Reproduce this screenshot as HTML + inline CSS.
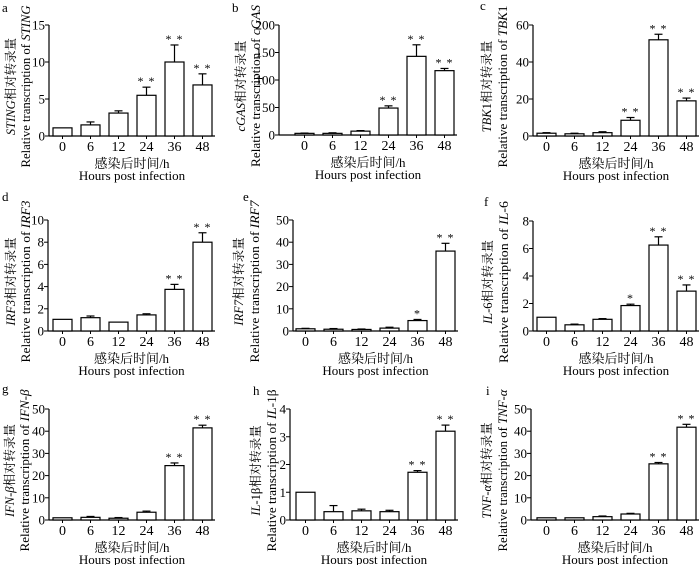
<!DOCTYPE html>
<html><head><meta charset="utf-8">
<style>
html,body{margin:0;padding:0;background:#fff;}
svg{display:block;font-family:"Liberation Serif","Noto Serif CJK SC",serif;}
</style></head>
<body>
<svg id="fig" width="700" height="565" viewBox="0 0 700 565"></svg>
<script>
const categories = ['0','6','12','24','36','48'];
const valuesA = [1.1,1.5,3.1,5.5,10,6.9];
const errA = [0,0.4,0.3,1.1,2.3,1.5];
const sigA = ['','','','**','**','**'];
const valuesB = [3,3,7,49,143,117];
const errB = [0.5,1,1,4,21,4];
const sigB = ['','','','**','**','**'];
const valuesC = [1.5,1.2,1.8,8.5,52,19];
const errC = [0.3,0.3,0.5,1.5,3,1.5];
const sigC = ['','','','**','**','**'];
const valuesD = [1.05,1.2,0.8,1.45,3.75,8];
const errD = [0,0.15,0,0.1,0.45,0.85];
const sigD = ['','','','','**','**'];
const valuesE = [1,0.8,0.7,1.3,4.7,36];
const errE = [0.2,0.3,0.2,0.4,0.5,3.5];
const sigE = ['','','','','*','**'];
const valuesF = [1,0.45,0.85,1.85,6.25,2.9];
const errF = [0,0.05,0.05,0.1,0.6,0.45];
const sigF = ['','','','*','**','**'];
const valuesG = [1,1.2,0.8,3.5,24.5,41.5];
const errG = [0,0.4,0.3,0.5,1.2,1.2];
const sigG = ['','','','','**','**'];
const valuesH = [1,0.3,0.33,0.3,1.72,3.2];
const errH = [0,0.22,0.06,0.05,0.06,0.22];
const sigH = ['','','','','**','**'];
const valuesI = [1,1,1.5,2.7,25.3,41.8];
const errI = [0,0,0.3,0.3,0.6,1.3];
const sigI = ['','','','','**','**'];
const ticksA=[0,5,10,15], ticksB=[0,50,100,150,200], ticksC=[0,20,40,60],
      ticksD=[0,2,4,6,8,10], ticksE=[0,10,20,30,40,50], ticksF=[0,2,4,6,8],
      ticksG=[0,10,20,30,40,50], ticksH=[0,1,2,3,4], ticksI=[0,10,20,30,40,50];

const panels = [
 {id:'a',gene:'STING',v:valuesA,e:errA,s:sigA,t:ticksA,ax:49,top:25,bot:136,fb:53,lx:2,ly:12,t1:11,t2:26},
 {id:'b',gene:'cGAS',v:valuesB,e:errB,s:sigB,t:ticksB,ax:279,top:25,bot:135,fb:295,lx:232,ly:12,t1:241,t2:256},
 {id:'c',gene:'TBK1',v:valuesC,e:errC,s:sigC,t:ticksC,ax:533,top:25,bot:136,fb:537,lx:480,ly:10,t1:487,t2:503},
 {id:'d',gene:'IRF3',v:valuesD,e:errD,s:sigD,t:ticksD,ax:48,top:220,bot:331,fb:53,lx:2,ly:201,t1:11,t2:26},
 {id:'e',gene:'IRF7',v:valuesE,e:errE,s:sigE,t:ticksE,ax:293,top:220,bot:331,fb:296,lx:243,ly:201,t1:239,t2:255},
 {id:'f',gene:'IL-6',v:valuesF,e:errF,s:sigF,t:ticksF,ax:533,top:221,bot:331,fb:537,lx:484,ly:206,t1:488,t2:504},
 {id:'g',gene:'IFN-β',v:valuesG,e:errG,s:sigG,t:ticksG,ax:49,top:409,bot:520,fb:53,lx:2,ly:393,t1:10,t2:25},
 {id:'h',gene:'IL-1β',v:valuesH,e:errH,s:sigH,t:ticksH,ax:290,top:409,bot:520,fb:296,lx:253,ly:395,t1:256,t2:272},
 {id:'i',gene:'TNF-α',v:valuesI,e:errI,s:sigI,t:ticksI,ax:531,top:409,bot:520,fb:537,lx:486,ly:395,t1:487,t2:503}
];
const NS='http://www.w3.org/2000/svg';
const svg=document.getElementById('fig');
function mk(tag,attrs,parent){const el=document.createElementNS(NS,tag);for(const k in attrs)el.setAttribute(k,attrs[k]);(parent||svg).appendChild(el);return el;}
function geneSpans(txt,p){
  if(p.id==='h'){const a=mk('tspan',{'font-style':'italic'},txt);a.textContent='IL';const b=mk('tspan',{},txt);b.textContent='-1β';}
  else if(p.id==='f'){const a=mk('tspan',{'font-style':'italic'},txt);a.textContent='IL';const b=mk('tspan',{},txt);b.textContent='-6';}
  else if(p.id==='c'){const a=mk('tspan',{'font-style':'italic'},txt);a.textContent='TBK';const b=mk('tspan',{},txt);b.textContent='1';}
  else {const a=mk('tspan',{'font-style':'italic'},txt);a.textContent=p.gene;}
}
panels.forEach(p=>{
  const g=mk('g',{});
  
  
  const step=28,bw=19;
  const maxT=p.t[p.t.length-1];
  const y=v=>p.bot-(v/maxT)*(p.bot-p.top);
  const x=i=>p.fb+i*step;
  const axEnd=x(5)+bw+3;
  const L=mk('text',{x:p.lx,y:p.ly,'font-size':13},g);L.textContent=p.id;
  
  
  const ya=mk('line',{x1:p.ax,y1:p.top,x2:p.ax,y2:p.bot,stroke:'#000','stroke-width':1.2},g);
  
  
  const xa=mk('line',{x1:p.ax,y1:p.bot,x2:axEnd,y2:p.bot,stroke:'#000','stroke-width':1.2},g);
  
  
  p.t.forEach(t=>{
    mk('line',{x1:p.ax-4,y1:y(t),x2:p.ax,y2:y(t),stroke:'#000','stroke-width':1},g);
    const tl=mk('text',{x:p.ax-4,y:y(t)+4.5,'font-size':13,'text-anchor':'end'},g);tl.textContent=t;
    
    
  });
  categories.forEach((c,i)=>{
    const cx=x(i)+bw/2;
    mk('line',{x1:cx,y1:p.bot,x2:cx,y2:p.bot+3,stroke:'#000','stroke-width':1},g);
    const tl=mk('text',{x:cx,y:p.bot+15,'font-size':14,'text-anchor':'middle'},g);tl.textContent=c;
    
    
    const v=p.v[i],e=p.e[i];
    const r=mk('rect',{x:x(i),y:y(v),width:bw,height:p.bot-y(v),fill:'#fff',stroke:'#000','stroke-width':1.2},g);
    
    
    if(e>0){
      mk('line',{x1:cx,y1:y(v),x2:cx,y2:y(v+e),stroke:'#000','stroke-width':1.2},g);
      mk('line',{x1:cx-4,y1:y(v+e),x2:cx+4,y2:y(v+e),stroke:'#000','stroke-width':1.2},g);
    }
    if(p.s[i]){
      const st=mk('text',{x:cx,y:y(v+e)-2,'font-size':12,'text-anchor':'middle','letter-spacing':'1'},g);
      st.textContent=p.s[i].split('').join(' ');
      
      
    }
  });
  const mid=(p.ax+axEnd)/2;
  const xc=mk('text',{x:mid,y:p.bot+32,'font-size':13,'text-anchor':'middle'},g);xc.textContent='感染后时间/h';
  
  
  const xe=mk('text',{x:mid,y:p.bot+44,'font-size':13,'text-anchor':'middle'},g);xe.textContent='Hours post infection';
  
  
  const cy=(p.top+p.bot)/2+6;
  const t1=mk('text',{x:0,y:0,'font-size':12.5,'text-anchor':'middle',transform:`translate(${p.t1+4},${cy}) rotate(-90)`},g);
  geneSpans(t1,p);const c1=mk('tspan',{},t1);c1.textContent='相对转录量';
  
  
  const t2=mk('text',{x:0,y:0,'font-size':13,'text-anchor':'middle',textLength:162,lengthAdjust:'spacingAndGlyphs',transform:`translate(${p.t2+4},${cy}) rotate(-90)`},g);
  const c2=mk('tspan',{},t2);c2.textContent='Relative transcription of ';geneSpans(t2,p);
  
  
});
</script>
</body></html>
